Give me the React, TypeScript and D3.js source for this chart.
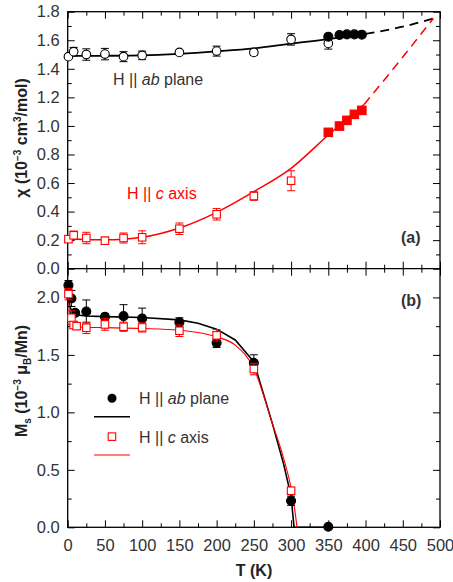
import React, { useEffect, useRef } from 'react';
import * as d3 from 'd3';

// panel (a): susceptibility, H || ab plane (open circles) and fit
const abT = [1, 8, 25, 50, 75, 100, 150, 200, 250, 300, 350];
const abChi = [1.485, 1.52, 1.5, 1.503, 1.485, 1.494, 1.515, 1.524, 1.515, 1.606, 1.578];
const abChiErr = [0.01, 0.03, 0.04, 0.04, 0.035, 0.03, 0.01, 0.035, 0.02, 0.04, 0.04];
// high temperature points (filled)
const abHiT = [350, 365, 375, 385, 395];
const abHiChi = [1.625, 1.637, 1.641, 1.641, 1.639];
const abFitT = [0, 50, 100, 150, 200, 250, 300, 350, 400];
const abFitChi = [1.49, 1.491, 1.494, 1.505, 1.522, 1.543, 1.576, 1.608, 1.645];
const abExtT = [400, 450, 491];
const abExtChi = [1.645, 1.695, 1.753];

// panel (a): H || c axis
const cT = [1, 8, 25, 50, 75, 100, 150, 200, 250, 300];
const cChi = [0.207, 0.234, 0.215, 0.196, 0.215, 0.22, 0.28, 0.381, 0.509, 0.616];
const cChiErr = [0.02, 0.03, 0.04, 0.025, 0.035, 0.045, 0.04, 0.04, 0.03, 0.07];
const cHiT = [350, 365, 375, 385, 395];
const cHiChi = [0.955, 0.999, 1.039, 1.081, 1.109];
const cFitT = [0, 25, 50, 75, 100, 150, 200, 250, 300, 350, 398];
const cFitChi = [0.212, 0.205, 0.202, 0.207, 0.22, 0.285, 0.395, 0.54, 0.703, 0.936, 1.15];
const cExtT = [398, 445, 491];
const cExtChi = [1.15, 1.45, 1.753];

// panel (b): Ms
const msAbT = [1, 5, 10, 25, 50, 75, 100, 150, 200, 250, 300, 350];
const msAb = [2.107, 1.991, 1.866, 1.878, 1.831, 1.837, 1.817, 1.783, 1.605, 1.431, 0.231, 0.005];
const msAbErr = [0.04, 0.07, 0.02, 0.1, 0.03, 0.1, 0.09, 0.04, 0.04, 0.07, 0.04, 0];
const msCT = [1, 5, 8, 12, 25, 50, 75, 100, 150, 200, 250, 300];
const msC = [2.029, 1.823, 1.76, 1.75, 1.736, 1.765, 1.745, 1.739, 1.71, 1.67, 1.377, 0.318];
const msCErr = [0.05, 0.06, 0.03, 0.03, 0.05, 0.05, 0.04, 0.04, 0.05, 0.05, 0.05, 0.03];
const msAbFitT = [0, 3, 6, 10, 25, 50, 100, 150, 175, 200, 225, 250, 275, 290, 300, 304, 304, 350];
const msAbFit = [2.02, 1.92, 1.87, 1.85, 1.838, 1.833, 1.825, 1.805, 1.775, 1.724, 1.63, 1.44, 0.9, 0.55, 0.27, 0.0, 0.0, 0.0];
const msCFitT = [0, 3, 6, 10, 25, 50, 100, 150, 175, 200, 225, 250, 275, 290, 300, 305, 308];
const msCFit = [2.05, 1.85, 1.77, 1.745, 1.74, 1.737, 1.73, 1.715, 1.695, 1.657, 1.585, 1.383, 0.9, 0.6, 0.34, 0.15, 0.0];

const xMajor = d3.range(0, 501, 50);
const xMinor = d3.range(25, 500, 50);
const yaMajor = d3.range(0, 1.81, 0.2);
const yaMinor = d3.range(0.1, 1.8, 0.2);
const ybMajor = d3.range(0, 2.01, 0.5);
const ybMinor = d3.range(0.25, 2.25, 0.5);

const W = 453;
const H = 582;
const L = 67.7;
const R = 440;
const T0 = 11.7;
const MID = 268.7;
const B = 527.3;

const RED = '#ff0000';
const FONT = '"Liberation Sans", Arial, sans-serif';
const TXT = '#333';

const zip = (xs: number[], ys: number[]) => xs.map((t, i) => [t, ys[i]] as [number, number]);

export default function App() {
  const ref = useRef<SVGGElement>(null);

  useEffect(() => {
    const svg = d3.select(ref.current);
    svg.selectAll('*').remove();

    const x = d3.scaleLinear().domain([0, 500]).range([L, R]);
    const ya = d3.scaleLinear().domain([0, 1.8]).range([MID, T0]);
    const yb = d3.scaleLinear().domain([0, 2.25]).range([B, MID]);

    const styleAxis = (g: any) => {
      g.select('.domain').remove();
      g.selectAll('line').attr('stroke', '#000').attr('stroke-width', 1);
      g.selectAll('text').attr('font-family', FONT).attr('font-size', 16.5).attr('fill', TXT);
    };

    const addAxis = (axis: any, tr: string) => {
      svg.append('g').attr('transform', tr).call(axis).call(styleAxis);
    };

    const none = () => '';
    // panel (a) axes
    addAxis(d3.axisLeft(ya).tickValues(yaMajor).tickSize(-7).tickPadding(8).tickFormat(d3.format('.1f')), `translate(${L},0)`);
    addAxis(d3.axisLeft(ya).tickValues(yaMinor).tickSize(-4).tickFormat(none), `translate(${L},0)`);
    addAxis(d3.axisRight(ya).tickValues(yaMajor).tickSize(-7).tickFormat(none), `translate(${R},0)`);
    addAxis(d3.axisRight(ya).tickValues(yaMinor).tickSize(-4).tickFormat(none), `translate(${R},0)`);
    addAxis(d3.axisTop(x).tickValues(xMajor).tickSize(-7).tickFormat(none), `translate(0,${T0})`);
    addAxis(d3.axisTop(x).tickValues(xMinor).tickSize(-4).tickFormat(none), `translate(0,${T0})`);
    addAxis(d3.axisBottom(x).tickValues(xMajor).tickSize(-7).tickFormat(none), `translate(0,${MID})`);
    addAxis(d3.axisBottom(x).tickValues(xMinor).tickSize(-4).tickFormat(none), `translate(0,${MID})`);
    // panel (b) axes
    addAxis(d3.axisLeft(yb).tickValues(ybMajor).tickSize(-7).tickPadding(8).tickFormat(d3.format('.1f')), `translate(${L},0)`);
    addAxis(d3.axisLeft(yb).tickValues(ybMinor).tickSize(-4).tickFormat(none), `translate(${L},0)`);
    addAxis(d3.axisRight(yb).tickValues(ybMajor).tickSize(-7).tickFormat(none), `translate(${R},0)`);
    addAxis(d3.axisRight(yb).tickValues(ybMinor).tickSize(-4).tickFormat(none), `translate(${R},0)`);
    addAxis(d3.axisTop(x).tickValues(xMajor).tickSize(-7).tickFormat(none), `translate(0,${MID})`);
    addAxis(d3.axisTop(x).tickValues(xMinor).tickSize(-4).tickFormat(none), `translate(0,${MID})`);
    addAxis(d3.axisBottom(x).tickValues(xMajor).tickSize(-7).tickPadding(12).tickFormat(d3.format('d')), `translate(0,${B})`);
    addAxis(d3.axisBottom(x).tickValues(xMinor).tickSize(-4).tickFormat(none), `translate(0,${B})`);

    // frames
    svg.append('rect').attr('x', L).attr('y', T0).attr('width', R - L).attr('height', B - T0)
      .attr('fill', 'none').attr('stroke', '#000').attr('stroke-width', 1.3);
    svg.append('line').attr('x1', L).attr('x2', R).attr('y1', MID).attr('y2', MID)
      .attr('stroke', '#000').attr('stroke-width', 1.3);

    const lineOf = (xs: number[], ys: number[], y: any, color: string, w: number, dash?: string, curve: any = d3.curveMonotoneX) => {
      const gen = d3.line<[number, number]>().x(d => x(d[0])).y(d => y(d[1])).curve(curve);
      svg.append('path').attr('d', gen(zip(xs, ys))).attr('fill', 'none')
        .attr('stroke', color).attr('stroke-width', w).attr('stroke-dasharray', dash ?? null);
    };

    const errBars = (xs: number[], ys: number[], es: number[], y: any, color: string) => {
      const g = svg.append('g').attr('stroke', color).attr('stroke-width', 1);
      xs.forEach((t, i) => {
        if (!es[i]) return;
        const cx = x(t);
        const y1 = y(ys[i] - es[i]);
        const y2 = y(ys[i] + es[i]);
        g.append('line').attr('x1', cx).attr('x2', cx).attr('y1', y1).attr('y2', y2);
        g.append('line').attr('x1', cx - 4).attr('x2', cx + 4).attr('y1', y1).attr('y2', y1);
        g.append('line').attr('x1', cx - 4).attr('x2', cx + 4).attr('y1', y2).attr('y2', y2);
      });
    };

    const circles = (xs: number[], ys: number[], y: any, filled: boolean, r: number) => {
      svg.append('g').selectAll('circle').data(zip(xs, ys)).join('circle')
        .attr('cx', d => x(d[0])).attr('cy', d => y(d[1])).attr('r', r)
        .attr('fill', filled ? '#000' : '#fff').attr('stroke', '#000').attr('stroke-width', 1.1);
    };

    const squares = (xs: number[], ys: number[], y: any, filled: boolean, s: number) => {
      svg.append('g').selectAll('rect').data(zip(xs, ys)).join('rect')
        .attr('x', d => x(d[0]) - s / 2).attr('y', d => y(d[1]) - s / 2)
        .attr('width', s).attr('height', s)
        .attr('fill', filled ? RED : '#fff').attr('stroke', RED).attr('stroke-width', 1.1);
    };

    // panel (a)
    lineOf(abFitT, abFitChi, ya, '#000', 1.8);
    lineOf(abExtT, abExtChi, ya, '#000', 1.8, '9,6');
    lineOf(cFitT, cFitChi, ya, RED, 1.5);
    lineOf(cExtT, cExtChi, ya, RED, 1.5, '9,6');
    errBars(abT, abChi, abChiErr, ya, '#000');
    circles(abT, abChi, ya, false, 4.3);
    circles(abHiT, abHiChi, ya, true, 4.5);
    errBars(cT, cChi, cChiErr, ya, RED);
    squares(cT, cChi, ya, false, 7.5);
    squares(cHiT, cHiChi, ya, true, 8.5);

    // panel (b)
    lineOf(msAbFitT, msAbFit, yb, '#000', 1.6, undefined, d3.curveLinear);
    lineOf(msCFitT, msCFit, yb, RED, 1.1, undefined, d3.curveMonotoneX);
    errBars(msAbT, msAb, msAbErr, yb, '#000');
    circles(msAbT, msAb, yb, true, 4.5);
    errBars(msCT, msC, msCErr, yb, RED);
    squares(msCT, msC, yb, false, 7.5);
  }, []);

  const txt = { fontFamily: FONT, fontSize: 16, fill: TXT } as const;

  return (
    <svg width={W} height={H} style={{ position: 'absolute', left: 0, top: 0, background: '#fff' }}>
      <g ref={ref} />
      <text x={113} y={85} {...txt}>H || <tspan fontStyle="italic">ab</tspan> plane</text>
      <text x={127} y={199} {...txt} fill={RED}>H || <tspan fontStyle="italic">c</tspan> axis</text>
      <text x={401} y={243} {...txt} fontWeight="bold">(a)</text>
      <text x={401} y={306} {...txt} fontWeight="bold">(b)</text>

      {/* legend */}
      <circle cx={112} cy={398.3} r={4.5} fill="#000" />
      <text x={139} y={404} {...txt}>H || <tspan fontStyle="italic">ab</tspan> plane</text>
      <line x1={94} x2={130} y1={416.7} y2={416.7} stroke="#000" strokeWidth={1.6} />
      <rect x={108.2} y={432.9} width={7.5} height={7.5} fill="#fff" stroke={RED} strokeWidth={1.1} />
      <text x={139} y={442.6} {...txt}>H || <tspan fontStyle="italic">c</tspan> axis</text>
      <line x1={94} x2={130} y1={455} y2={455} stroke={RED} strokeWidth={1.1} />

      {/* axis titles */}
      <text transform="translate(27,138) rotate(-90)" textAnchor="middle" {...txt} fill="#222" fontWeight="bold">
        χ (10<tspan dy={-6} fontSize={10}>−3</tspan><tspan dy={6}> cm</tspan><tspan dy={-6} fontSize={10}>3</tspan><tspan dy={6}>/mol)</tspan>
      </text>
      <text transform="translate(27,381) rotate(-90)" textAnchor="middle" {...txt} fill="#222" fontWeight="bold">
        M<tspan dy={4} fontSize={10}>s</tspan><tspan dy={-4}> (10</tspan><tspan dy={-6} fontSize={10}>−3</tspan><tspan dy={6}> μ</tspan><tspan dy={4} fontSize={10}>B</tspan><tspan dy={-4}>/Mn)</tspan>
      </text>
      <text x={254} y={576} textAnchor="middle" {...txt} fill="#222" fontWeight="bold">T (K)</text>
    </svg>
  );
}
